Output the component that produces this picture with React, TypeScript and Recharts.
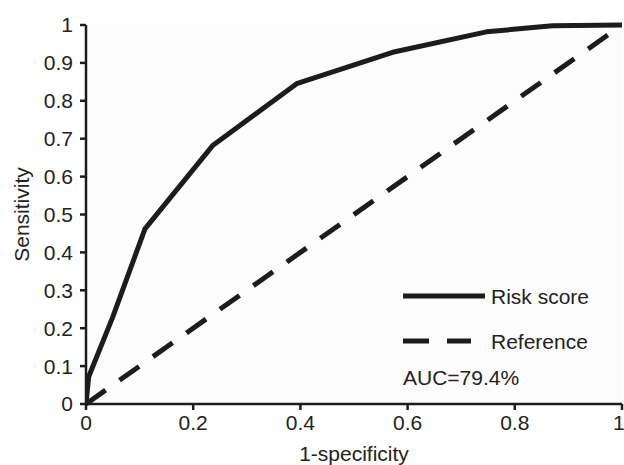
import { LineChart, Line, XAxis, YAxis, CartesianGrid } from 'recharts'

const riskX = [0, 0.005, 0.05, 0.11, 0.237, 0.393, 0.572, 0.747, 0.87, 1]
const riskY = [0, 0.072, 0.23, 0.462, 0.683, 0.845, 0.928, 0.982, 0.998, 1]
const refX = [0, 1]
const refY = [0, 1]
const xTicks = [0, 0.2, 0.4, 0.6, 0.8, 1]
const yTicks = [0, 0.1, 0.2, 0.3, 0.4, 0.5, 0.6, 0.7, 0.8, 0.9, 1]
const aucText = 'AUC=79.4%'

const riskData = riskX.map((x, i) => ({ x, y: riskY[i] }))
const refData = refX.map((x, i) => ({ x, y: refY[i] }))

const INK = '#1c1c1c'
const FONT = '"Liberation Sans", Arial, sans-serif'
const tickStyle = { fontSize: 21, fill: '#222', fontFamily: FONT }

const legendItems = [
  { name: 'Risk score', dash: undefined as string | undefined, y: 296 },
  { name: 'Reference', dash: '26 18', y: 341 },
]

export default function App() {
  return (
    <div style={{ position: 'absolute', left: 0, top: 0, width: 624, height: 465, background: '#fff', fontFamily: FONT }}>
      <LineChart width={624} height={465} margin={{ top: 25, right: 2, bottom: 0, left: 0 }}>
        <CartesianGrid horizontal={false} vertical={false} fill="#fcfcfc" />
        <XAxis
          type="number"
          dataKey="x"
          domain={[0, 1]}
          ticks={xTicks}
          height={61}
          tick={tickStyle}
          tickSize={6}
          tickMargin={5}
          stroke={INK}
          strokeWidth={2.5}
          allowDataOverflow
          label={{ value: '1-specificity', position: 'insideBottom', offset: 4, fontSize: 21, fill: '#222', fontFamily: FONT }}
        />
        <YAxis
          type="number"
          dataKey="y"
          domain={[0, 1]}
          ticks={yTicks}
          width={86}
          tick={tickStyle}
          tickSize={6}
          tickMargin={7}
          stroke={INK}
          strokeWidth={2.5}
          label={{ value: 'Sensitivity', angle: -90, position: 'insideLeft', offset: 22, textAnchor: 'middle', fontSize: 21, fill: '#222', fontFamily: FONT }}
        />
        <Line
          data={refData}
          dataKey="y"
          type="linear"
          stroke={INK}
          strokeWidth={5}
          strokeDasharray="24 17"
          dot={false}
          activeDot={false}
          isAnimationActive={false}
        />
        <Line
          data={riskData}
          dataKey="y"
          type="linear"
          stroke={INK}
          strokeWidth={5}
          strokeLinejoin="round"
          dot={false}
          activeDot={false}
          isAnimationActive={false}
        />
      </LineChart>
      <svg width={624} height={465} style={{ position: 'absolute', left: 0, top: 0, pointerEvents: 'none' }}>
        {legendItems.map((it) => (
          <g key={it.name}>
            <line x1={403} x2={(it.dash ? 471 : 485)} y1={it.y} y2={it.y} stroke={INK} strokeWidth={5} strokeDasharray={it.dash} />
            <text x={491} y={it.y + 7.5} fontSize={21} fill="#222" fontFamily={FONT}>{it.name}</text>
          </g>
        ))}
        <text x={403} y={385} fontSize={21} fill="#222" fontFamily={FONT}>{aucText}</text>
      </svg>
    </div>
  )
}
